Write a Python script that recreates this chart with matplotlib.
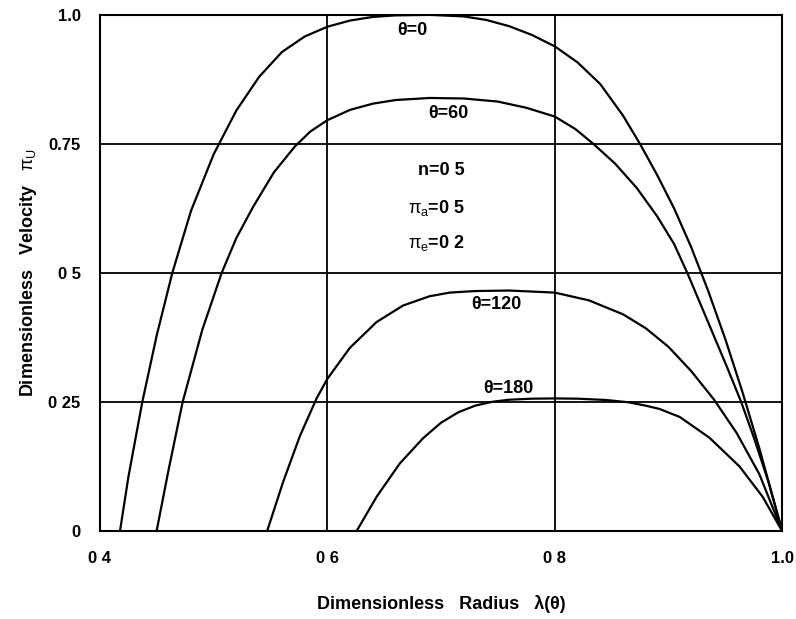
import matplotlib
matplotlib.use("Agg")
import matplotlib.pyplot as plt

plt.rcParams['font.family'] = ['Liberation Sans', 'DejaVu Sans']
plt.rcParams['mathtext.fontset'] = 'custom'
plt.rcParams['mathtext.rm'] = 'Liberation Sans'
plt.rcParams['mathtext.it'] = 'Liberation Sans'

# curves: (radius, velocity)
x_th0 = [0.4176, 0.425, 0.4372, 0.45, 0.4636, 0.48, 0.5, 0.52, 0.54, 0.56, 0.58,
         0.6, 0.62, 0.64, 0.66, 0.69, 0.72, 0.74, 0.76, 0.78, 0.8, 0.82, 0.84,
         0.86, 0.875, 0.89, 0.905, 0.92, 0.935, 0.95, 0.965, 0.98, 1.0]
y_th0 = [0.0, 0.105, 0.25, 0.38, 0.5, 0.62, 0.73, 0.815, 0.88, 0.928, 0.958,
         0.977, 0.989, 0.996, 0.999, 1.0, 0.997, 0.99, 0.978, 0.961, 0.939, 0.908,
         0.866, 0.805, 0.75, 0.69, 0.625, 0.55, 0.465, 0.372, 0.27, 0.16, 0.0]

x_th60 = [0.4498, 0.46, 0.4727, 0.49, 0.507, 0.52, 0.5348, 0.553, 0.5714, 0.585,
          0.6, 0.62, 0.64, 0.66, 0.69, 0.72, 0.75, 0.775, 0.8, 0.818, 0.834,
          0.853, 0.872, 0.89, 0.905, 0.9166, 0.9377, 0.952, 0.964, 0.975, 0.988, 1.0]
y_th60 = [0.0, 0.115, 0.25, 0.39, 0.5, 0.568, 0.6285, 0.695, 0.745, 0.774,
          0.796, 0.816, 0.828, 0.835, 0.839, 0.838, 0.832, 0.82, 0.803, 0.779, 0.75,
          0.712, 0.665, 0.61, 0.556, 0.5, 0.39, 0.315, 0.25, 0.182, 0.095, 0.0]

x_th120 = [0.547, 0.5612, 0.5758, 0.5905, 0.6, 0.6198, 0.6433, 0.6666, 0.69,
           0.7077, 0.73, 0.76, 0.8, 0.83, 0.86, 0.88, 0.9, 0.92, 0.94, 0.96,
           0.98, 1.0]
y_th120 = [0.0, 0.096, 0.184, 0.257, 0.295, 0.355, 0.405, 0.437, 0.455,
           0.462, 0.465, 0.466, 0.462, 0.447, 0.42, 0.393, 0.357, 0.31, 0.255, 0.19,
           0.11, 0.0]

x_th180 = [0.6257, 0.6433, 0.6637, 0.6842, 0.70, 0.715, 0.73, 0.745, 0.76, 0.78,
           0.8, 0.82, 0.845, 0.865, 0.88, 0.8923, 0.91, 0.936, 0.9626, 0.983, 1.0]
y_th180 = [0.0, 0.0665, 0.131, 0.18, 0.21, 0.23, 0.243, 0.2505, 0.2545, 0.2565,
           0.257, 0.2565, 0.254, 0.2495, 0.243, 0.2365, 0.221, 0.181, 0.125, 0.066, 0.0]

x_ticks = [0.4, 0.6, 0.8, 1.0]
x_tick_labels = ['0 4', '0 6', '0 8', '1.0']
y_ticks = [0, 0.25, 0.5, 0.75, 1.0]
y_tick_labels = ['0', '0 25', '0 5', '0.75', '1.0']

fig = plt.figure(figsize=(7.96, 6.19), dpi=100)
ax = fig.add_axes([0.1256, 0.142, 0.857, 0.834])

for xs, ys in [(x_th0, y_th0), (x_th60, y_th60), (x_th120, y_th120), (x_th180, y_th180)]:
    ax.plot(xs, ys, color='black', lw=1.6, solid_joinstyle='round')

ax.set_xlim(0.4, 1.0)
ax.set_ylim(0, 1.0)
ax.set_xticks(x_ticks)
ax.set_xticklabels(x_tick_labels)
ax.set_yticks(y_ticks)
ax.set_yticklabels(y_tick_labels)
ax.tick_params(length=0, labelsize=12, pad=14)
for lbl in ax.get_xticklabels() + ax.get_yticklabels():
    lbl.set_fontweight('bold')
ax.grid(True, color='black', lw=1.3)
for s in ax.spines.values():
    s.set_linewidth(1.5)

ax.set_xlabel('Dimensionless   Radius   λ(θ)', fontsize=13, fontweight='bold', labelpad=21)
ax.set_ylabel('Dimensionless   Velocity   $\\pi_U$', fontsize=13, fontweight='bold', labelpad=7)

txt = dict(fontsize=13, fontweight='bold', ha='center', va='center')
ax.text(0.675, 0.969, 'θ=0', **txt)
ax.text(0.706, 0.809, 'θ=60', **txt)
ax.text(0.7, 0.698, 'n=0 5', **txt)
ax.text(0.696, 0.626, '$\\pi_a$=0 5', **txt)
ax.text(0.696, 0.558, '$\\pi_e$=0 2', **txt)
ax.text(0.749, 0.438, 'θ=120', **txt)
ax.text(0.759, 0.276, 'θ=180', **txt)

fig.savefig('out.png', dpi=100)
